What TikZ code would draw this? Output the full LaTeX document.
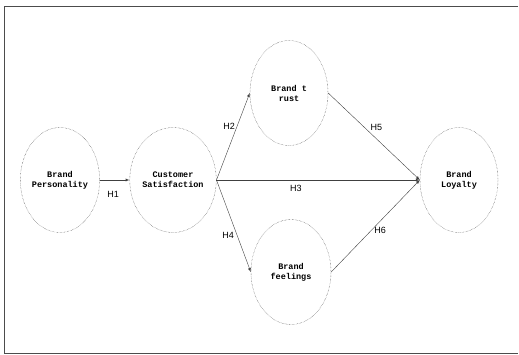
\documentclass[tikz,border=0pt]{standalone}
\usepackage{fontspec}
\setmainfont{Liberation Sans}
\setmonofont{Liberation Mono}
\usetikzlibrary{arrows,shapes.geometric}

\tikzset{
  construct/.style={ellipse,draw,densely dotted,black!80,text=black,inner sep=0pt,
    minimum width=78pt,minimum height=105pt,align=center,
    font=\fontsize{8.5}{10}\selectfont\ttfamily\bfseries},
  path/.style={->,>=latex,black!75,thin},
  hlabel/.style={font=\fontsize{9}{9}\selectfont,text=black,inner sep=1pt}
}

\begin{document}
\begin{tikzpicture}[x=1pt,y=-1pt]
  \useasboundingbox (0,0) rectangle (519,355);
  % frame
  \draw[black!70,thin] (518,6) -- (4,6) -- (4,353) -- (518,353);
  % constructs
  \node[construct] (bp) at (60,180) {Brand\\Personality};
  \node[construct] (cs) at (173,180) {Customer\\Satisfaction};
  \node[construct] (bt) at (289,93) {Brand t\\rust};
  \node[construct,minimum width=80pt] (bf) at (291,272) {Brand\\feelings};
  \node[construct] (bl) at (459,180) {Brand\\Loyalty};
  % hypotheses
  \draw[path] (bp.east) -- (cs.west) node[hlabel,pos=0.45,below=10pt] (h1) {H1};
  \draw[path] (cs.east) -- (bt.west) node[hlabel,pos=0.62,left=1pt] (h2) {H2};
  \draw[path] (cs.east) -- (bl.west) node[hlabel,pos=0.39,below=4pt] (h3) {H3};
  \draw[path] (cs.east) -- (bf.west) node[hlabel,pos=0.6,left=2pt] (h4) {H4};
  \draw[path] (bt.east) -- (bl.west) node[hlabel,pos=0.45,above right=0pt] (h5) {H5};
  \draw[path] (bf.east) -- (bl.west) node[hlabel,pos=0.45,right=2pt] (h6) {H6};
\end{tikzpicture}
\end{document}
